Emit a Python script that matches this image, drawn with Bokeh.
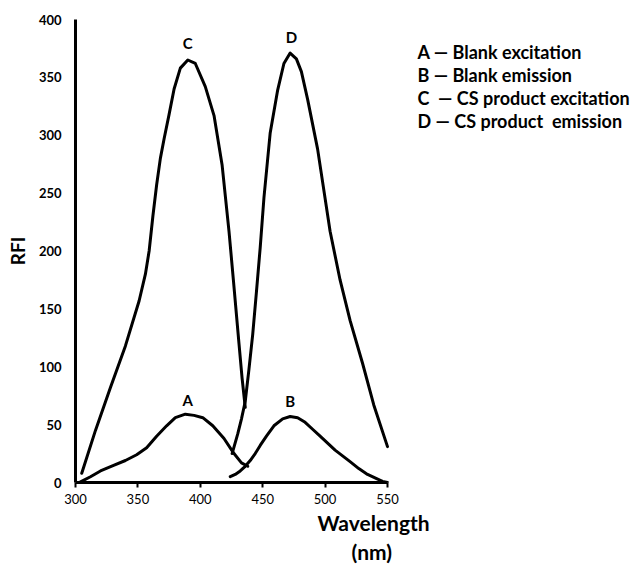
from bokeh.plotting import figure
from bokeh.models import Label, FixedTicker, Range1d, Title
from bokeh.embed import file_html
from bokeh.resources import INLINE

# Curve A: Blank excitation
a_x = [304, 312, 320, 331, 340, 349, 357, 365, 373, 380, 388, 395, 402, 410, 419, 427, 433, 438]
a_y = [0.5, 5, 10, 15, 19, 24, 30, 40, 49, 56, 59, 58, 56, 49, 38, 25, 17, 14]
# Curve B: Blank emission
b_x = [424, 428, 432, 436, 440, 444, 448, 453, 459, 466, 472, 478, 484, 490, 496, 502, 508, 514, 520, 527, 534, 540, 546, 550]
b_y = [5, 7, 10, 14, 19, 25, 32, 40, 49, 55, 57, 56, 52, 46, 40, 34, 28, 23, 18, 12, 7, 4, 1, 0]
# Curve C: CS product excitation
c_x = [305, 316, 328, 340, 351, 356, 359, 362, 365, 368, 371, 375, 379, 384, 390, 396, 404, 411, 417.5, 423, 426.5, 431, 433.5, 436]
c_y = [8, 45, 82, 118, 157, 180, 200, 230, 257, 280, 297, 318, 340, 358, 365, 362, 342, 317, 274, 217, 175, 120, 90, 65]
# Curve D: CS product emission
d_x = [425.5, 430, 433, 436, 439, 442, 445, 448, 451, 456, 462, 467, 472, 477, 481, 486, 494, 504, 512, 520, 530, 539, 550]
d_y = [25, 42, 55, 70, 98, 128, 165, 203, 246, 302, 339, 362, 371, 366, 355, 331, 288, 217, 175, 140, 103, 67, 31]

x_ticks = [300, 350, 400, 450, 500, 550]
y_ticks = [0, 50, 100, 150, 200, 250, 300, 350, 400]

curve_labels = ["A", "B", "C", "D"]
curve_label_x = [390, 472, 390, 473]
curve_label_y = [71, 70, 380, 385]

legend_texts = ["A \u2014 Blank excitation", "B \u2014 Blank emission",
                "C\u00a0 \u2014 CS product excitation", "D \u2014 CS product\u00a0 emission"]
legend_y = [371.9, 352.2, 331.8, 312.2]

FONT = "Lato"

W, H = 630, 564
LEFT, TOP, BOTTOM = 75, 19, 76
PX_PER_NM = 312.0 / 250.0
x_end = 300 + (W - LEFT) / PX_PER_NM

p = figure(width=W, height=H, output_backend="svg", toolbar_location=None,
           x_range=Range1d(300, x_end), y_range=Range1d(0, 400),
           min_border_left=LEFT, min_border_right=0, min_border_top=TOP, min_border_bottom=BOTTOM)
p.grid.visible = False
p.outline_line_color = None
p.background_fill_color = "white"
p.border_fill_color = "white"

for xs, ys in [(a_x, a_y), (b_x, b_y), (c_x, c_y), (d_x, d_y)]:
    p.line(xs, ys, line_color="black", line_width=3, line_join="round", line_cap="round")

p.xaxis.ticker = FixedTicker(ticks=x_ticks)
p.yaxis.ticker = FixedTicker(ticks=y_ticks)
p.xaxis.bounds = (300, 550)
for ax in (p.xaxis, p.yaxis):
    ax.axis_line_width = 3
    ax.axis_line_color = "black"
    ax.minor_tick_line_color = None
    ax.major_tick_line_width = 2
    ax.major_tick_line_color = "black"
    ax.major_tick_in = 0
    ax.major_label_text_font = FONT
    ax.major_label_text_font_size = "13px"
    ax.major_label_text_color = "black"
p.xaxis.major_tick_out = 5
p.xaxis.major_label_standoff = 6
p.yaxis.major_tick_out = 0
p.yaxis.major_tick_line_color = None
p.yaxis.major_label_standoff = 14
p.yaxis.major_label_text_font_style = "bold"

p.yaxis.axis_label = "RFI"
p.yaxis.axis_label_text_font = FONT
p.yaxis.axis_label_text_font_style = "bold"
p.yaxis.axis_label_text_font_size = "19px"
p.yaxis.axis_label_text_color = "black"
p.yaxis.axis_label_standoff = 7

for t, x, y in zip(curve_labels, curve_label_x, curve_label_y):
    p.add_layout(Label(x=x, y=y, text=t, text_font=FONT, text_font_style="bold",
                       text_color="black", text_font_size="15px",
                       text_align="center", text_baseline="middle"))

for t, y in zip(legend_texts, legend_y):
    p.add_layout(Label(x=574, y=y, text=t, text_font=FONT, text_font_style="bold",
                       text_color="black", text_font_size="18px",
                       text_align="left", text_baseline="middle"))

p.add_layout(Title(text="Wavelength", align="left", offset=242, text_font=FONT,
                   text_font_style="bold", text_color="black", text_font_size="21px",
                   standoff=2), "below")
p.add_layout(Title(text="(nm)", align="left", offset=276, text_font=FONT,
                   text_font_style="bold", text_color="black", text_font_size="21px",
                   standoff=2), "below")

open("out.html", "w").write(file_html(p, INLINE))
